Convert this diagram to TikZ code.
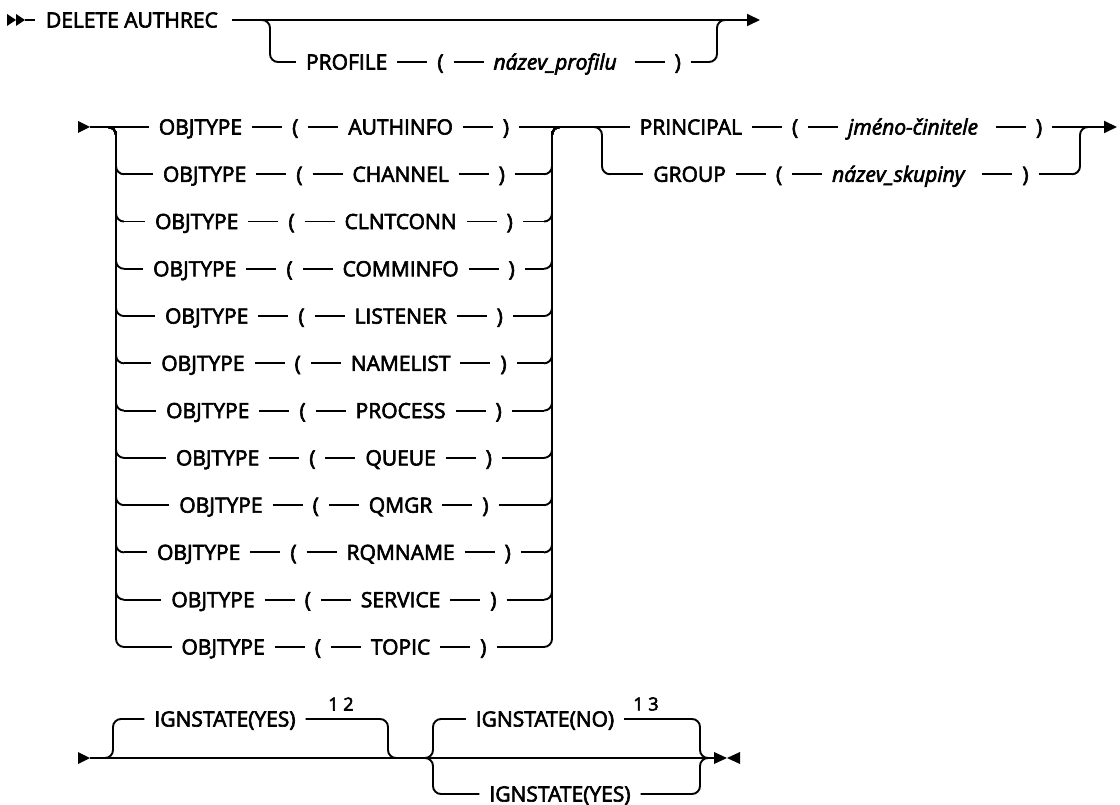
\documentclass[tikz,border=0pt]{standalone}
\usepackage{fontspec}
\setmainfont{Open Sans}[FakeBold=3]
\usetikzlibrary{arrows.meta}

% text size used on every rail
\newcommand\railfont{\normalfont\fontsize{21}{25}\selectfont}

\newbox\rbox
% #1 macro receiving the width of text #2 set in \railfont
\newcommand\rmeasure[2]{%
  \pgfinterruptpicture\global\setbox\rbox\hbox{\railfont #2}\endpgfinterruptpicture
  \xdef#1{\the\wd\rbox}}
\def\rgap{10pt}   % space between a text and a rail piece
\def\rdash{30pt}  % rail piece between two texts
\def\rr{8pt}      % corner radius of the rails

% KEYWORD -- ( -- argument -- ) centred between two verticals
% #1 name prefix, #2 y, #3 left vertical, #4 right vertical,
% #5 keyword, #6 argument, #7 extra space after the argument
\newcommand\kwrow[7]{%
  \rmeasure\rwA{#5}\rmeasure\rwB{(}\rmeasure\rwC{#6}\rmeasure\rwD{)}%
  \pgfmathsetmacro\rxa{(#3+#4)/2-(\rwA+\rwB+\rwC+\rwD+3*\rdash+6*\rgap+#7)/2}%
  \pgfmathsetmacro\rxb{\rxa+\rwA+2*\rgap+\rdash}%
  \pgfmathsetmacro\rxc{\rxb+\rwB+2*\rgap+\rdash}%
  \pgfmathsetmacro\rxd{\rxc+\rwC+2*\rgap+\rdash+#7}%
  \node[lbl] (#1k) at (\rxa,#2) {#5};
  \node[lbl] (#1o) at (\rxb,#2) {(};
  \node[lbl] (#1a) at (\rxc,#2) {#6};
  \node[lbl] (#1c) at (\rxd,#2) {)};
  \coordinate (#1L) at (#3+\rr,#2);
  \coordinate (#1R) at (#4-\rr,#2);
  \draw[rail] (#1L) -- ([xshift=-\rgap]#1k.west);
  \draw[rail] ([xshift=\rgap]#1k.east) -- ([xshift=-\rgap]#1o.west);
  \draw[rail] ([xshift=\rgap]#1o.east) -- ([xshift=-\rgap]#1a.west);
  \draw[rail] ([xshift=\rgap+#7]#1a.east) -- ([xshift=-\rgap]#1c.west);
  \draw[rail] ([xshift=\rgap]#1c.east) -- (#1R);
}

\begin{document}
\begin{tikzpicture}[x=1pt,y=-1pt,
  rail/.style={line width=1.9pt},
  branch/.style={rail, rounded corners=8pt},
  lbl/.style={inner sep=0pt, outer sep=0pt, text height=15pt, text depth=0pt,
    anchor=west, font=\railfont},
  note/.style={inner sep=0pt, outer sep=0pt, font=\normalfont\fontsize{18}{20}\selectfont},
  endtip/.style={-{Triangle[length=13pt,width=12pt]}},
]
\useasboundingbox (0,0) rectangle (1120,805);

% ---------- DELETE AUTHREC [PROFILE(...)] ----------
\fill (7,14) -- (16,20) -- (7,26) -- cycle;
\fill (16,14) -- (25,20) -- (16,26) -- cycle;
\coordinate (st1) at (25,20);
\node[lbl] (del) at (46,20) {DELETE AUTHREC};
\draw[rail] (st1) -- ([xshift=-11pt]del.west);
\coordinate (end1) at (760,20);
\draw[rail, endtip] ([xshift=14pt]del.east) -- (end1);
\kwrow{p}{62}{270}{717}{PROFILE}{\itshape název\_profilu}{8}
\draw[branch] (262,20) -- (270,20) -- (270,62) -- (pL);
\draw[branch] (pR) -- (717,62) -- (717,20) -- (725,20);

% ---------- OBJTYPE choice ----------
\fill (78,121) -- (90,127) -- (78,133) -- cycle;
\coordinate (st2) at (90,127);
\foreach \kw [count=\i from 0] in {AUTHINFO,CHANNEL,CLNTCONN,COMMINFO,LISTENER,NAMELIST,PROCESS,QUEUE,QMGR,RQMNAME,SERVICE,TOPIC}{
  \pgfmathsetmacro\yy{127+47.27*\i}
  \kwrow{o\i}{\yy}{116}{552}{OBJTYPE}{\kw}{0}
  \ifnum\i>0
    \draw[branch] (108,127) -- (116,127) -- (116,\yy) -- (o\i L);
    \draw[branch] (o\i R) -- (552,\yy) -- (552,127) -- (560,127);
  \fi
}
\draw[rail] (st2) -- (o0L);

% ---------- PRINCIPAL / GROUP choice ----------
\kwrow{q0}{127}{602}{1080}{PRINCIPAL}{\itshape jméno-činitele}{8}
\kwrow{q1}{174.27}{602}{1080}{GROUP}{\itshape název\_skupiny}{8}
\draw[rail] (o0R) -- (q0L);
\draw[branch] (594,127) -- (602,127) -- (602,174.27) -- (q1L);
\draw[branch] (q1R) -- (1080,174.27) -- (1080,127) -- (1088,127);
\coordinate (end2) at (1117,127);
\draw[rail, endtip] (q0R) -- (end2);

% ---------- IGNSTATE options ----------
\fill (78,752) -- (90,758) -- (78,764) -- cycle;
\coordinate (st3) at (90,758);
\coordinate (bt) at (714,758);
\draw[rail] (st3) -- (bt);
\fill (714,752) -- (727,758) -- (714,764) -- cycle;
\fill (740,752) -- (727,758) -- (740,764) -- cycle;

\node[lbl, anchor=center] (iy1) at (225,719) {IGNSTATE(YES)};
\node[note] (n12) at (341,704) {1 2};
\draw[branch] (105,758) -- (113,758) -- (113,719) -- ([xshift=-10pt]iy1.west);
\draw[branch] ([xshift=10pt]iy1.east) -- (388,719) -- (388,758) -- (396,758);

\node[lbl, anchor=center] (ino) at (545,719) {IGNSTATE(NO)};
\node[note] (n13) at (646,704) {1 3};
\node[lbl, anchor=center] (iy2) at (560,794) {IGNSTATE(YES)};
\draw[branch] (425,758) -- (433,758) -- (433,719) -- ([xshift=-10pt]ino.west);
\draw[branch] ([xshift=10pt]ino.east) -- (700,719) -- (700,758) -- (708,758);
\draw[branch] (425,758) -- (433,758) -- (433,794) -- ([xshift=-10pt]iy2.west);
\draw[branch] ([xshift=10pt]iy2.east) -- (700,794) -- (700,758) -- (708,758);
\end{tikzpicture}
\end{document}
